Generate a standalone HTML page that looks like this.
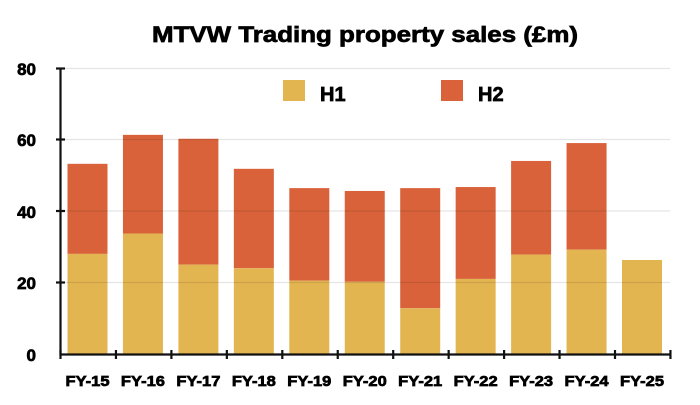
<!DOCTYPE html>
<html><head><meta charset="utf-8"><style>
html,body{margin:0;padding:0;background:#fff;}
svg text{font-family:"Liberation Sans",Arial,sans-serif;font-weight:bold;fill:#000;stroke:#000;stroke-width:0.7;}
</style></head><body>
<svg width="700" height="400" viewBox="0 0 700 400" xmlns="http://www.w3.org/2000/svg">
<text x="152" y="42" font-size="22" textLength="426" lengthAdjust="spacingAndGlyphs" stroke-width="0.9">MTVW Trading property sales (£m)</text>
<g font-size="17" text-anchor="end">
<text x="36" y="75">80</text><text x="36" y="146">60</text><text x="36" y="218">40</text><text x="36" y="289">20</text><text x="36" y="361">0</text>
</g>
<rect x="283" y="80" width="22" height="21" fill="#E3B551"/>
<text x="320" y="101" font-size="20">H1</text>
<rect x="441" y="80" width="22" height="21" fill="#D9623A"/>
<text x="478" y="101" font-size="20">H2</text>
<g id="bars"></g>
<g stroke="rgba(0,0,0,0.1)" stroke-width="1.2">
<line x1="60" x2="670" y1="68.5" y2="68.5"/><line x1="60" x2="670" y1="139.5" y2="139.5"/><line x1="60" x2="670" y1="211" y2="211"/><line x1="60" x2="670" y1="282.5" y2="282.5"/>
</g>
<g stroke="#111" stroke-width="2.2" fill="none">
<line x1="60.5" y1="68.5" x2="60.5" y2="355"/>
<line x1="60" y1="354.5" x2="670" y2="354.5"/>
<line x1="56" x2="65" y1="68.5" y2="68.5"/><line x1="56" x2="65" y1="139.5" y2="139.5"/><line x1="56" x2="65" y1="211" y2="211"/><line x1="56" x2="65" y1="282.5" y2="282.5"/>
</g>
<g id="ticks" stroke="#111" stroke-width="2.2"></g>
<g id="labels" font-size="14.5" text-anchor="middle"></g>
</svg>
<script>
var d=[["FY-15",28,53.2],["FY-16",33.7,61.3],["FY-17",25,60.2],["FY-18",24,51.8],["FY-19",20.5,46.4],["FY-20",20.2,45.6],["FY-21",12.8,46.4],["FY-22",21,46.7],["FY-23",27.8,54],["FY-24",29.2,59],["FY-25",26.3,26.3]];
var ns="http://www.w3.org/2000/svg",b=document.getElementById("bars"),t=document.getElementById("ticks"),l=document.getElementById("labels");
function y(v){return 354-v*3.575;}
function el(p,n,a){var e=document.createElementNS(ns,n);for(var k in a)e.setAttribute(k,a[k]);p.appendChild(e);return e;}
var s=55.45;
for(var i=0;i<=11;i++){var x=60.5+i*s;el(t,"line",{x1:x,x2:x,y1:350,y2:359});}
d.forEach(function(r,i){var x=60+i*s+7.5;
if(r[2]>r[1])el(b,"rect",{x:x,y:y(r[2]),width:40,height:y(r[1])-y(r[2]),fill:"#D9623A"});
el(b,"rect",{x:x,y:y(r[1]),width:40,height:354-y(r[1]),fill:"#E3B551"});
var tx=el(l,"text",{x:x-2,y:386,textLength:44,lengthAdjust:"spacingAndGlyphs","text-anchor":"start"});tx.textContent=r[0];});
</script>
</body></html>
